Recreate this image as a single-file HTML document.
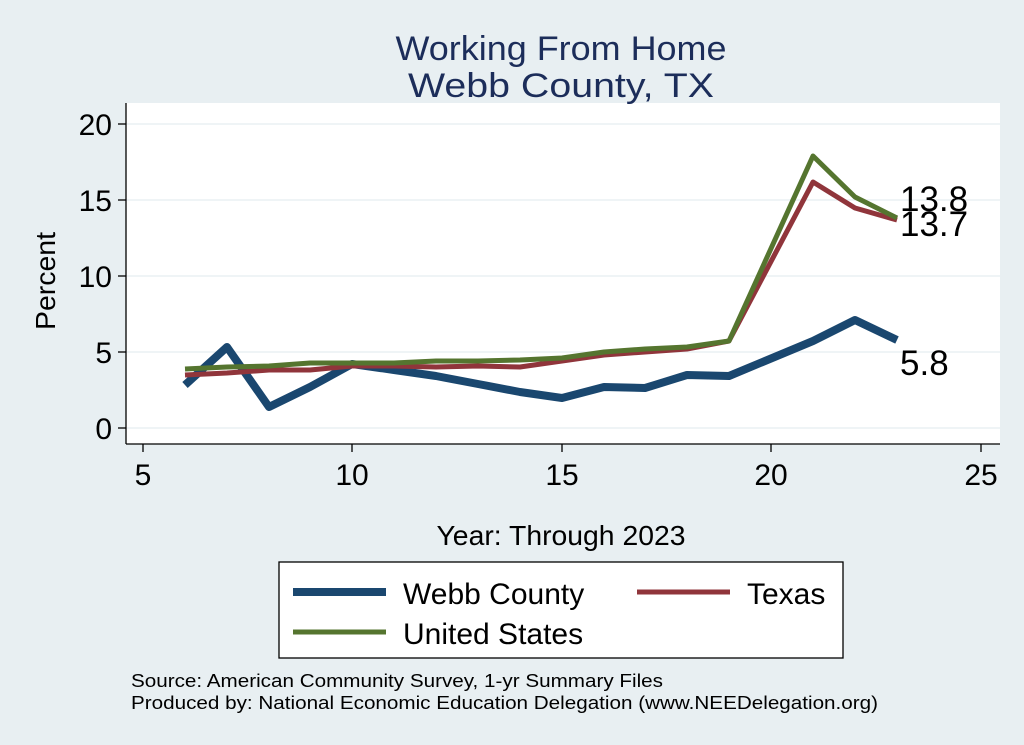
<!DOCTYPE html>
<html><head><style>body{margin:0;background:#e8eff2}svg{display:block}text{font-family:"Liberation Sans",sans-serif}</style></head>
<body>
<svg width="1024" height="745" viewBox="0 0 1024 745">
<rect width="1024" height="745" fill="#e8eff2"/>
<rect x="126" y="103" width="874" height="341" fill="#fff"/>
<g stroke="#eaf0f3" stroke-width="1.5">
<line x1="126" x2="1000" y1="428" y2="428"/><line x1="126" x2="1000" y1="352" y2="352"/><line x1="126" x2="1000" y1="276" y2="276"/><line x1="126" x2="1000" y1="200" y2="200"/><line x1="126" x2="1000" y1="124" y2="124"/>
</g>
<g stroke="#000" stroke-width="1.3">
<line x1="126" y1="103" x2="126" y2="444"/><line x1="126" y1="444" x2="1000" y2="444"/>
<line x1="118" x2="126" y1="428" y2="428"/><line x1="118" x2="126" y1="352" y2="352"/><line x1="118" x2="126" y1="276" y2="276"/><line x1="118" x2="126" y1="200" y2="200"/><line x1="118" x2="126" y1="124" y2="124"/>
<line x1="143" x2="143" y1="444" y2="452"/><line x1="352" x2="352" y1="444" y2="452"/><line x1="562" x2="562" y1="444" y2="452"/><line x1="771" x2="771" y1="444" y2="452"/><line x1="981" x2="981" y1="444" y2="452"/>
</g>
<g font-size="30" text-anchor="end" fill="#000">
<text x="112" y="439">0</text><text x="112" y="363">5</text><text x="112" y="287">10</text><text x="112" y="211">15</text><text x="112" y="135">20</text>
</g>
<g font-size="30" text-anchor="middle" fill="#000">
<text x="143" y="485">5</text><text x="352" y="485">10</text><text x="562" y="485">15</text><text x="771" y="485">20</text><text x="981" y="485">25</text>
<text x="561" y="545" font-size="28" textLength="249" lengthAdjust="spacingAndGlyphs">Year: Through 2023</text>
<text transform="translate(55,281) rotate(-90)" font-size="28" textLength="98" lengthAdjust="spacingAndGlyphs">Percent</text>
<text x="561" y="60" font-size="34" fill="#1c2d5a" textLength="331" lengthAdjust="spacingAndGlyphs">Working From Home</text>
<text x="561" y="97" font-size="34" fill="#1c2d5a" textLength="306" lengthAdjust="spacingAndGlyphs">Webb County, TX</text>
</g>
<g fill="none" stroke-linejoin="round">
<polyline stroke="#1a476f" stroke-width="8" points="185,385 227,347 269,407 310,387 352,364 394,370 436,376 478,384 520,392 562,398 604,387 645,388 687,375 729,376 813,341 855,320 897,340"/>
<polyline stroke="#90353b" stroke-width="5" points="185,375 227,373 269,370 310,370 352,366 394,366 436,367 478,366 520,367 562,361 604,355 645,352 687,349 729,341 813,182 855,208 897,220"/>
<polyline stroke="#55752f" stroke-width="5" points="185,369 227,367 269,366 310,363 352,363 394,363 436,361 478,361 520,360 562,358 604,352 645,349 687,347 729,341 813,156 855,197 897,218"/>
</g>
<g font-size="35" fill="#000">
<text x="900" y="211">13.8</text><text x="900" y="236">13.7</text><text x="900" y="375">5.8</text>
</g>
<rect x="279" y="562" width="564" height="96" fill="#fff" stroke="#000" stroke-width="1.3"/>
<line x1="293" y1="592" x2="386" y2="592" stroke="#1a476f" stroke-width="8"/>
<line x1="637" y1="592" x2="730" y2="592" stroke="#90353b" stroke-width="5"/>
<line x1="293" y1="632" x2="386" y2="632" stroke="#55752f" stroke-width="5"/>
<g font-size="30" fill="#000">
<text x="403" y="604">Webb County</text><text x="747" y="604">Texas</text><text x="403" y="644">United States</text>
</g>
<g font-size="18" fill="#000">
<text x="131" y="687" textLength="532" lengthAdjust="spacingAndGlyphs">Source: American Community Survey, 1-yr Summary Files</text>
<text x="131" y="709" textLength="747" lengthAdjust="spacingAndGlyphs">Produced by: National Economic Education Delegation (www.NEEDelegation.org)</text>
</g>
</svg>
</body></html>
